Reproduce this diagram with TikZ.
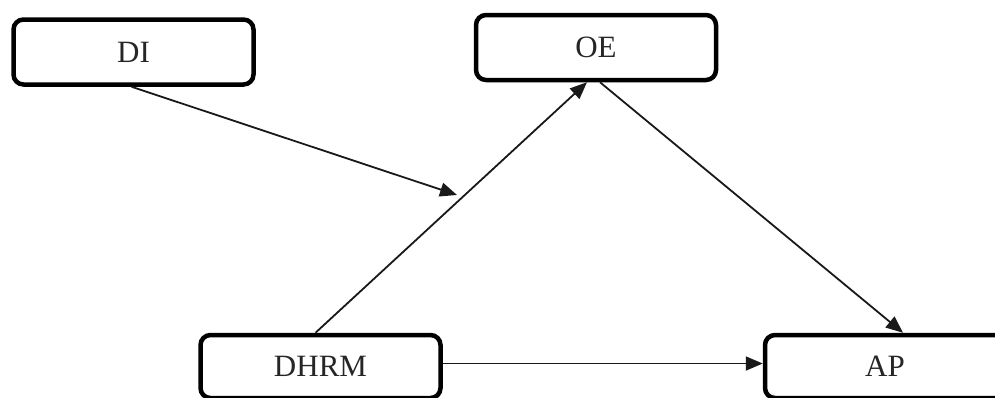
\documentclass[tikz,border=0pt]{standalone}
\usepackage{fontspec}
\setmainfont{Liberation Serif}
\usetikzlibrary{arrows.meta}
\begin{document}
\begin{tikzpicture}[x=1pt,y=-1pt,
  box/.style={draw=black, line width=4.5pt, rounded corners=10pt, fill=white,
    minimum width=240pt, minimum height=65pt, inner sep=0pt,
    font=\fontsize{31}{36}\selectfont, text=black!85},
  conn/.style={draw=black!90, line width=1.8pt, -{Triangle[length=17pt,width=14pt]}}]
\useasboundingbox (0,0) rectangle (995,397);
\clip (0,0) rectangle (995,397);
\fill[white] (0,0) rectangle (995,397);
\node[box] (DI) at (133.5,52) {DI};
\node[box] (OE) at (596,47.5) {OE};
\node[box, minimum height=63pt] (DHRM) at (320.5,366.5) {DHRM};
\node[box, minimum height=63pt] (AP) at (885,366.5) {AP};
\coordinate (m) at (457,195);
\draw[conn] ([xshift=-2pt]DI.south) -- (m);
\draw[conn] ([xshift=-5pt]DHRM.north) -- ([xshift=-9pt]OE.south);
\draw[conn] ([xshift=4pt]OE.south) -- ([xshift=18pt]AP.north);
\draw[conn] ([yshift=3pt]DHRM.east) -- ([yshift=3pt]AP.west);
\end{tikzpicture}
\end{document}
